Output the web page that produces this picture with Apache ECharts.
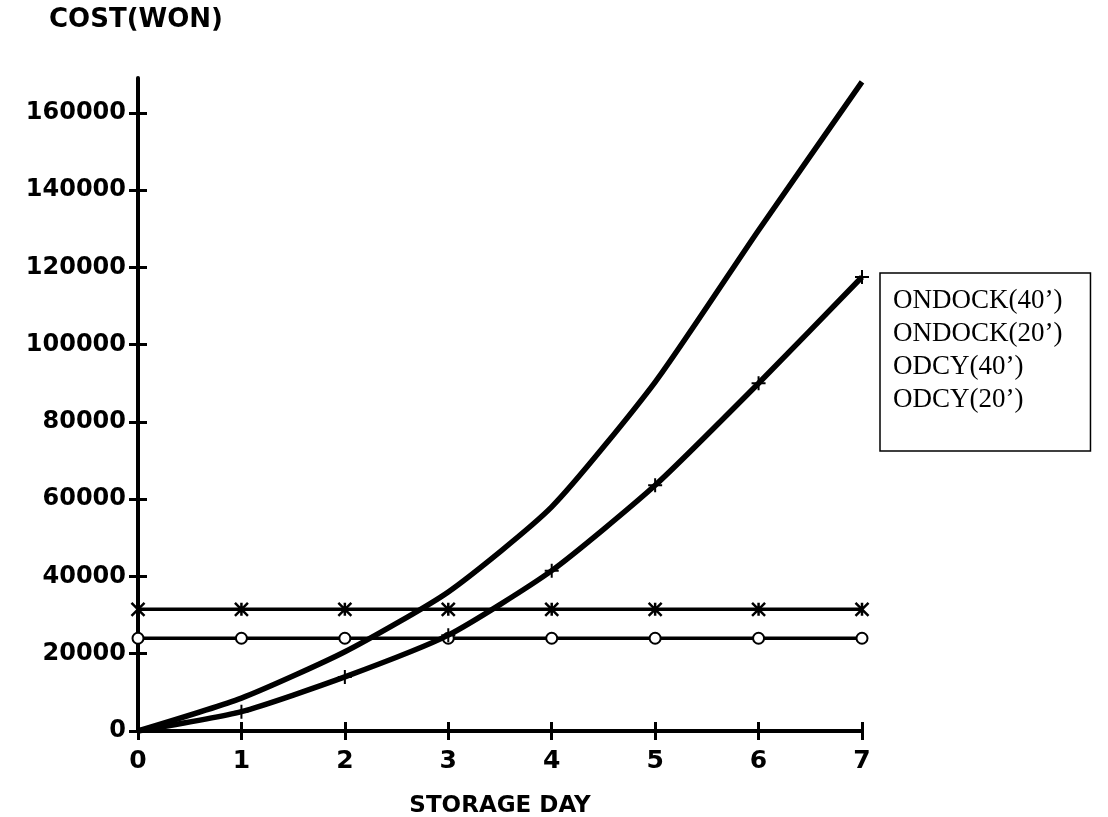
<!DOCTYPE html>
<html><head><meta charset="utf-8">
<script src="https://cdn.jsdelivr.net/npm/echarts@6/dist/echarts.min.js"></script>
<style>html,body{margin:0;padding:0;background:#fff}#c{width:1108px;height:817px}</style>
</head><body><div id="c"></div>
<script>
// ---- data ----
const days = [0, 1, 2, 3, 4, 5, 6, 7];
const seriesNames = ["ONDOCK(40’)", "ONDOCK(20’)", "ODCY(40’)", "ODCY(20’)"];
const ondock40 = [0, 8500, 20500, 36000, 58000, 90300, 129600, 168000];
const ondock20 = [0, 5000, 14000, 24800, 41500, 63600, 90000, 117500];
const odcy40 = [31500, 31500, 31500, 31500, 31500, 31500, 31500, 31500];
const odcy20 = [24000, 24000, 24000, 24000, 24000, 24000, 24000, 24000];
const yTicks = [0, 20000, 40000, 60000, 80000, 100000, 120000, 140000, 160000];
const xTitle = "STORAGE DAY";
const yTitle = "COST(WON)";

const pairs = arr => days.map((d, i) => [d, arr[i]]);
const PLUS = 'path://M5,0L5,10M0,5L10,5';
const STAR = 'path://M0,0L10,10M10,0L0,10M5,0L5,10';
const bold = {fontFamily: 'DejaVu Sans', fontWeight: 'bold', color: '#000'};

const chart = echarts.init(document.getElementById('c'), null, {renderer: 'canvas'});
const yCommon = {type: 'value', min: 0, max: 169000, interval: 20000, splitLine: {show: false}};
const xCommon = {type: 'value', min: 0, max: 7, interval: 1, splitLine: {show: false}};
chart.setOption({
  backgroundColor: '#fff',
  animation: false,
  title: {text: yTitle, left: 44, top: 2, textStyle: Object.assign({fontSize: 26}, bold)},
  grid: {left: 138, right: 246, top: 78, bottom: 86, containLabel: false, outerBoundsMode: 'none'},
  legend: {
    orient: 'vertical', left: 880, top: 273, selectedMode: false,
    data: seriesNames.map(n => ({name: n, icon: 'none'})),
    itemWidth: 0, itemHeight: 27, itemGap: 6,
    padding: [14, 28, 38, 8],
    borderColor: '#000', borderWidth: 1.5,
    textStyle: {fontFamily: 'Liberation Serif', fontSize: 27, color: '#000'}
  },
  xAxis: [
    Object.assign({}, xCommon, {
      position: 'bottom',
      axisLine: {show: true, lineStyle: {color: '#000', width: 4}},
      axisTick: {show: true, length: 9, lineStyle: {color: '#000', width: 3}},
      axisLabel: Object.assign({fontSize: 25, margin: 18}, bold),
      name: xTitle, nameLocation: 'middle', nameGap: 64,
      nameTextStyle: Object.assign({fontSize: 23}, bold)
    }),
    Object.assign({}, xCommon, {
      position: 'bottom',
      axisLine: {show: false},
      axisTick: {show: true, inside: true, length: 9, lineStyle: {color: '#000', width: 3}},
      axisLabel: {show: false}
    })
  ],
  yAxis: [
    Object.assign({}, yCommon, {
      position: 'left',
      axisLine: {show: true, lineStyle: {color: '#000', width: 4}},
      axisTick: {show: true, length: 9, customValues: yTicks, lineStyle: {color: '#000', width: 3}},
      axisLabel: Object.assign({fontSize: 24, margin: 12, customValues: yTicks,
        formatter: v => String(Math.round(v))}, bold)
    }),
    Object.assign({}, yCommon, {
      position: 'left',
      axisLine: {show: false},
      axisTick: {show: true, inside: true, length: 9, customValues: yTicks, lineStyle: {color: '#000', width: 3}},
      axisLabel: {show: false}
    })
  ],
  series: [
    {name: seriesNames[0], type: 'line', data: pairs(ondock40), symbol: 'none', smooth: 0.2,
     lineStyle: {color: '#000', width: 5.5}, itemStyle: {color: '#000'}, z: 3},
    {name: seriesNames[1], type: 'line', data: pairs(ondock20), symbol: PLUS, symbolSize: 14, smooth: 0.2,
     lineStyle: {color: '#000', width: 5.5},
     itemStyle: {color: '#000', borderColor: '#000', borderWidth: 2}, z: 3},
    {name: seriesNames[2], type: 'line', data: pairs(odcy40), symbol: STAR, symbolSize: 13,
     lineStyle: {color: '#000', width: 3.5},
     itemStyle: {color: '#000', borderColor: '#000', borderWidth: 2.5}, z: 2},
    {name: seriesNames[3], type: 'line', data: pairs(odcy20), symbol: 'emptyCircle', symbolSize: 11,
     lineStyle: {color: '#000', width: 3.5},
     itemStyle: {color: '#000', borderColor: '#000', borderWidth: 2.5}, z: 2}
  ]
});
</script>
</body></html>
